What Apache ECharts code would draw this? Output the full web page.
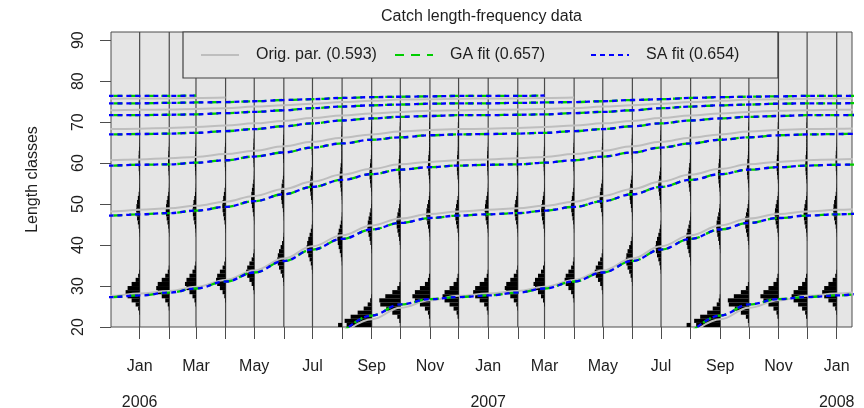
<!DOCTYPE html>
<html>
<head>
<meta charset="utf-8">
<script src="https://cdn.jsdelivr.net/npm/echarts@6/dist/echarts.min.js"></script>
<style>
  html, body { margin: 0; padding: 0; background: #ffffff; }
  #chart { width: 864px; height: 408px; }
</style>
</head>
<body>
<div id="chart"></div>
<script>
// ---- Monthly catch samples (first day of each month) ----
const sampleDates = [
  '2006-01-01', '2006-02-01', '2006-03-01', '2006-04-01', '2006-05-01', '2006-06-01',
  '2006-07-01', '2006-08-01', '2006-09-01', '2006-10-01', '2006-11-01', '2006-12-01',
  '2007-01-01', '2007-02-01', '2007-03-01', '2007-04-01', '2007-05-01', '2007-06-01',
  '2007-07-01', '2007-08-01', '2007-09-01', '2007-10-01', '2007-11-01', '2007-12-01',
  '2008-01-01'
];

const monthNames = ['Jan', 'Feb', 'Mar', 'Apr', 'May', 'Jun', 'Jul', 'Aug', 'Sep', 'Oct', 'Nov', 'Dec'];

// Length-class ticks (cm)
const yTickValues = [20, 30, 40, 50, 60, 70, 80, 90];

// Catch per 1-cm length class, one entry per sample.
// Each segment is [first length class, counts of consecutive classes].
const catchCounts = [
  [[23, [.5,1.5,4,8,12,14,12,8,4,1.5,.5]], [42, [.2,.5,1,1.8,2.6,3.2,3.5,3.2,2.6,1.8,1,.5,.2]], [54, [.1,.2,.3,.6,.9,1.1,1.2,1.1,.9,.6,.3,.2,.1]]],
  [[24, [.5,1.5,4,7.5,11.5,13,11.5,7.5,4,1.5,.5]], [42, [.2,.5,1,1.8,2.6,3.2,3.5,3.2,2.6,1.8,1,.5,.2]], [54, [.1,.2,.3,.6,.9,1.1,1.2,1.1,.9,.6,.3,.2,.1]]],
  [[25, [.5,1.5,3.5,6.5,9.5,11,9.5,6.5,3.5,1.5,.5]], [42, [.2,.5,1,1.7,2.5,3.1,3.4,3.1,2.5,1.7,1,.5,.2]], [54, [.1,.2,.3,.6,.9,1.1,1.2,1.1,.9,.6,.3,.2,.1]]],
  [[26, [.5,1.3,3,5.7,8.4,9.5,8.4,5.7,3,1.3,.5]], [43, [.2,.5,1,1.7,2.4,3,3.3,3,2.4,1.7,1,.5,.2]], [55, [.1,.2,.3,.6,.8,1,1.1,1,.8,.6,.3,.2,.1]]],
  [[28, [.4,1.1,2.6,4.8,7,8,7,4.8,2.6,1.1,.4]], [45, [.2,.4,.9,1.6,2.3,2.9,3.2,2.9,2.3,1.6,.9,.4,.2]], [56, [.1,.2,.3,.6,.8,1,1.1,1,.8,.6,.3,.2,.1]]],
  [[30, [.3,.8,1.8,3.2,4.8,6,6.5,6,4.8,3.2,1.8,.8,.3]], [46, [.2,.4,.9,1.5,2.2,2.7,3,2.7,2.2,1.5,.9,.4,.2]], [57, [.1,.2,.3,.6,.8,1,1.1,1,.8,.6,.3,.2,.1]]],
  [[33, [.3,.8,1.7,2.9,4.2,5.3,5.8,5.3,4.2,2.9,1.7,.8,.3]], [48, [.2,.4,.8,1.4,2,2.5,2.8,2.5,2,1.4,.8,.4,.2]], [58, [.1,.1,.3,.5,.7,.9,1,.9,.7,.5,.3,.1,.1]]],
  [[20, [4]], [35, [.3,.6,1.3,2.3,3.4,4.3,4.7,4.3,3.4,2.3,1.3,.6,.3]], [50, [.2,.4,.7,1.3,1.8,2.3,2.5,2.3,1.8,1.3,.7,.4,.2]], [59, [.1,.1,.3,.5,.7,.9,1,.9,.7,.5,.3,.1,.1]]],
  [[20, [25,27,21,14,8,4,1.5,.5]], [38, [.3,.6,1.3,2.1,3.1,3.9,4.3,3.9,3.1,2.1,1.3,.6,.3]], [51, [.1,.3,.7,1.2,1.7,2.1,2.3,2.1,1.7,1.2,.7,.3,.1]], [60, [.1,.1,.3,.5,.7,.9,1,.9,.7,.5,.3,.1,.1]]],
  [[21, [1,3,8,14,20,21,15,8,3,1]], [39, [.2,.6,1.2,2,2.9,3.6,4,3.6,2.9,2,1.2,.6,.2]], [52, [.1,.3,.6,1,1.5,1.9,2.1,1.9,1.5,1,.6,.3,.1]], [60, [.1,.1,.3,.5,.7,.9,1,.9,.7,.5,.3,.1,.1]]],
  [[22, [1,2,5,10,15,17.5,15,10,5,2,1]], [41, [.2,.6,1.1,1.9,2.8,3.5,3.8,3.5,2.8,1.9,1.1,.6,.2]], [53, [.1,.3,.6,1,1.5,1.8,2,1.8,1.5,1,.6,.3,.1]], [61, [.1,.1,.3,.5,.7,.8,.9,.8,.7,.5,.3,.1,.1]]],
  [[22, [1,2,5,9,14,16,14,9,5,2,1]], [41, [.2,.5,1,1.8,2.6,3.2,3.5,3.2,2.6,1.8,1,.5,.2]], [53, [.1,.3,.6,1,1.4,1.7,1.9,1.7,1.4,1,.6,.3,.1]], [61, [.1,.1,.3,.5,.7,.8,.9,.8,.7,.5,.3,.1,.1]]],
  [[23, [.5,1.5,4,8.5,13,15,13,8.5,4,1.5,.5]], [42, [.2,.5,1,1.8,2.6,3.2,3.5,3.2,2.6,1.8,1,.5,.2]], [54, [.1,.2,.3,.6,.9,1.1,1.2,1.1,.9,.6,.3,.2,.1]]],
  [[24, [.5,1.5,4,7.5,11.5,13,11.5,7.5,4,1.5,.5]], [42, [.2,.5,1,1.7,2.5,3.1,3.4,3.1,2.5,1.7,1,.5,.2]], [54, [.1,.2,.3,.6,.9,1.1,1.2,1.1,.9,.6,.3,.2,.1]]],
  [[25, [.5,1.5,3.5,6.5,9.5,11,9.5,6.5,3.5,1.5,.5]], [42, [.2,.5,1,1.7,2.5,3.1,3.4,3.1,2.5,1.7,1,.5,.2]], [54, [.1,.2,.3,.6,.8,1,1.1,1,.8,.6,.3,.2,.1]]],
  [[26, [.5,1.3,3,5.7,8.4,9.5,8.4,5.7,3,1.3,.5]], [43, [.2,.4,.9,1.6,2.3,2.9,3.2,2.9,2.3,1.6,.9,.4,.2]], [55, [.1,.2,.3,.6,.8,1,1.1,1,.8,.6,.3,.2,.1]]],
  [[28, [.4,1.1,2.6,4.8,7,8,7,4.8,2.6,1.1,.4]], [45, [.2,.4,.9,1.6,2.3,2.9,3.2,2.9,2.3,1.6,.9,.4,.2]], [56, [.1,.2,.3,.6,.8,1,1.1,1,.8,.6,.3,.2,.1]]],
  [[30, [.3,.8,1.8,3.2,4.8,6,6.5,6,4.8,3.2,1.8,.8,.3]], [46, [.2,.4,.9,1.5,2.2,2.7,3,2.7,2.2,1.5,.9,.4,.2]], [57, [.1,.1,.3,.5,.7,.9,1,.9,.7,.5,.3,.1,.1]]],
  [[33, [.3,.8,1.6,2.7,4,5.1,5.5,5.1,4,2.7,1.6,.8,.3]], [48, [.2,.4,.8,1.4,2,2.5,2.8,2.5,2,1.4,.8,.4,.2]], [58, [.1,.1,.3,.5,.7,.9,1,.9,.7,.5,.3,.1,.1]]],
  [[20, [4]], [35, [.3,.6,1.3,2.2,3.3,4.1,4.5,4.1,3.3,2.2,1.3,.6,.3]], [50, [.2,.4,.7,1.3,1.8,2.3,2.5,2.3,1.8,1.3,.7,.4,.2]], [59, [.1,.1,.3,.5,.7,.9,1,.9,.7,.5,.3,.1,.1]]],
  [[20, [24,26,20,13,7.5,3.5,1.5,.5]], [38, [.2,.6,1.2,2,2.9,3.6,4,3.6,2.9,2,1.2,.6,.2]], [51, [.1,.3,.7,1.2,1.7,2.1,2.3,2.1,1.7,1.2,.7,.3,.1]], [60, [.1,.1,.3,.5,.7,.8,.9,.8,.7,.5,.3,.1,.1]]],
  [[21, [1,3,8,14,20,21,15,8,3,1]], [39, [.2,.6,1.2,2,2.9,3.6,4,3.6,2.9,2,1.2,.6,.2]], [52, [.1,.3,.6,1,1.5,1.9,2.1,1.9,1.5,1,.6,.3,.1]], [60, [.1,.1,.3,.5,.7,.8,.9,.8,.7,.5,.3,.1,.1]]],
  [[22, [1,2,5,10,15,18,15,10,5,2,1]], [41, [.2,.6,1.1,1.9,2.8,3.5,3.8,3.5,2.8,1.9,1.1,.6,.2]], [53, [.1,.3,.6,1,1.5,1.8,2,1.8,1.5,1,.6,.3,.1]], [61, [.1,.1,.3,.5,.7,.8,.9,.8,.7,.5,.3,.1,.1]]],
  [[22, [1,2,5,9,13.5,15.5,13.5,9,5,2,1]], [41, [.2,.5,1,1.8,2.6,3.2,3.5,3.2,2.6,1.8,1,.5,.2]], [53, [.1,.3,.6,1,1.4,1.7,1.9,1.7,1.4,1,.6,.3,.1]], [61, [.1,.1,.3,.5,.7,.8,.9,.8,.7,.5,.3,.1,.1]]],
  [[23, [.5,1.5,4,8.3,12.5,14.5,12.5,8.3,4,1.5,.5]], [42, [.2,.5,1,1.8,2.6,3.2,3.5,3.2,2.6,1.8,1,.5,.2]], [54, [.1,.2,.3,.6,.9,1.1,1.2,1.1,.9,.6,.3,.2,.1]]]
];

// ---- Growth curves: length (cm) at monthly steps after 1 August of a cohort's recruitment year ----
// Original parameters
const origLength = [
  18.1, 21.9, 24.7, 26.5, 27.6,
  28.2, 28.8, 29.8, 31.5, 33.8, 36.7, 39.7, 42.4, 44.8, 46.5, 47.6, 48.2,
  48.6, 49.0, 49.6, 50.6, 52.0, 53.7, 55.5, 57.2, 58.6, 59.7, 60.3, 60.7,
  60.9, 61.2, 61.5, 62.2, 63.0, 64.1, 65.2, 66.2, 67.0, 67.7, 68.1, 68.3,
  68.4, 68.6, 68.8, 69.2, 69.7, 70.3, 71.0, 71.6, 72.1, 72.5, 72.8, 72.9,
  73.0, 73.1, 73.2, 73.4, 73.8, 74.1, 74.5, 74.9, 75.2, 75.5, 75.6, 75.7,
  75.8, 75.8, 75.9, 76.0
];
// Genetic-algorithm fit
const gaLength = [
  18.6, 22.8, 25.5, 26.8, 27.3,
  27.7, 28.4, 29.4, 31.1, 33.3, 36.1, 38.9, 41.5, 43.8, 45.4, 46.6, 47.2,
  47.5, 47.8, 48.4, 49.3, 50.7, 52.4, 54.2, 55.9, 57.3, 58.4, 59.0, 59.4,
  59.6, 59.7, 60.1, 60.7, 61.6, 62.6, 63.8, 64.8, 65.7, 66.3, 66.8, 67.0,
  67.1, 67.2, 67.4, 67.8, 68.3, 69.0, 69.7, 70.4, 70.9, 71.3, 71.5, 71.7,
  71.7, 71.8, 71.9, 72.2, 72.5, 72.9, 73.4, 73.8, 74.1, 74.3, 74.5, 74.6,
  74.6, 74.7, 74.8, 74.9, 75.1, 75.4, 75.6, 75.9, 76.1, 76.2, 76.3, 76.4,
  76.4, 76.4, 76.5
];
// Simulated-annealing fit (coincides with the GA curve within a line width)
const saLength = gaLength;

const fitNames = ['Orig. par.', 'GA fit', 'SA fit'];
const fitScores = [0.593, 0.657, 0.654];

// ---- Layout / style constants ----
const FONT = '"Liberation Sans", Arial, Helvetica, sans-serif';
const TEXT = '#1e1e1e';
const Y_MIN = 20, Y_MAX = 92;
const DAY = 86400000;
const toTime = s => Date.parse(s + 'T00:00:00Z');
const X_MIN = toTime('2005-12-02');
const X_MAX = toTime('2008-01-17');
const DAYS_PER_COUNT = 1.05;   // horizontal extent of one catch unit

const sampleTimes = sampleDates.map(toTime);
const labelTimes = sampleTimes.filter((t, i) => i % 2 === 0);
const seriesNames = fitNames.map((n, i) => n + ' (' + fitScores[i].toFixed(3) + ')');

const lineStyles = [
  { color: '#bebebe', width: 2, type: 'solid' },
  { color: '#00cd00', width: 2.3, type: [9, 7] },
  { color: '#0000ff', width: 2.3, type: [5, 4] }
];

// Histogram bars: [sample time, length class, count]
const histData = [];
catchCounts.forEach((segments, i) => {
  const byClass = {};
  segments.forEach(([first, counts]) => {
    counts.forEach((c, k) => { byClass[first + k] = (byClass[first + k] || 0) + c; });
  });
  Object.keys(byClass).forEach(cls => histData.push([sampleTimes[i], +cls, byClass[cls]]));
});

// One line per cohort, recruited each August
function cohortLines(name, lengths, lineStyle, z) {
  const out = [];
  for (let year = 1995; year <= 2008; year++) {
    const pts = [];
    lengths.forEach((len, a) => {
      const t = Date.UTC(year, 7 + a, 1);
      if (t >= X_MIN - 32 * DAY && t <= X_MAX + 32 * DAY) pts.push([t, len]);
    });
    if (pts.length < 2) continue;
    out.push({
      name: name, type: 'line', data: pts, z: z,
      smooth: 0.4, smoothMonotone: 'x', symbol: 'none', clip: true,
      itemStyle: { color: lineStyle.color },
      lineStyle: lineStyle, silent: true
    });
  }
  return out;
}

// Legend: three equal columns inside one framed box
const legendCommon = {
  orient: 'horizontal',
  itemWidth: 38, itemHeight: 14,
  selectedMode: false,
  itemStyle: { opacity: 0 },
  textStyle: { fontSize: 16, color: TEXT, fontFamily: FONT, padding: [0, 0, 0, 12] }
};
const LEGEND_TOP = 32, LEGEND_PAD = 15;

const chart = echarts.init(document.getElementById('chart'), null, { renderer: 'canvas' });

const option = {
  animation: false,
  backgroundColor: '#ffffff',
  title: {
    text: 'Catch length-frequency data',
    left: 481.5, top: 9, padding: 0,
    textAlign: 'center',
    textStyle: { fontSize: 16, fontWeight: 'normal', color: TEXT, fontFamily: FONT }
  },
  grid: {
    left: 111, right: 12, top: 32, bottom: 81,
    outerBoundsMode: 'none', containLabel: false,
    show: true, backgroundColor: '#e5e5e5', borderColor: '#4d4d4d', borderWidth: 1
  },
  legend: [
    Object.assign({}, legendCommon, {
      data: [seriesNames[0]], left: 183, top: LEGEND_TOP, z: 10,
      padding: [LEGEND_PAD, 401, LEGEND_PAD, 17],
      backgroundColor: '#e5e5e5', borderColor: '#404040', borderWidth: 1.2
    }),
    Object.assign({}, legendCommon, {
      data: [seriesNames[1]], left: 394, top: LEGEND_TOP + LEGEND_PAD, z: 11, padding: 0
    }),
    Object.assign({}, legendCommon, {
      data: [seriesNames[2]], left: 590, top: LEGEND_TOP + LEGEND_PAD, z: 11, padding: 0
    })
  ],
  xAxis: {
    // time as milliseconds since epoch (UTC)
    type: 'value', min: X_MIN, max: X_MAX,
    axisLine: { show: false },
    axisTick: { show: true, length: 12, customValues: sampleTimes, lineStyle: { color: '#4d4d4d', width: 1 } },
    axisLabel: {
      customValues: labelTimes, margin: 31, fontSize: 16, lineHeight: 18,
      color: TEXT, fontFamily: FONT, hideOverlap: false,
      formatter: v => {
        const d = new Date(v);
        const m = monthNames[d.getUTCMonth()];
        return d.getUTCMonth() === 0 ? m + '\n\n' + d.getUTCFullYear() : m;
      }
    },
    splitLine: { show: false }
  },
  yAxis: {
    type: 'value', min: Y_MIN, max: Y_MAX, interval: 10,
    name: 'Length classes', nameLocation: 'middle', nameGap: 70, nameRotate: 90,
    nameTextStyle: { fontSize: 16, color: TEXT, fontFamily: FONT },
    axisLine: { show: false },
    axisTick: { show: true, length: 11, customValues: yTickValues, lineStyle: { color: '#4d4d4d', width: 1 } },
    axisLabel: { customValues: yTickValues, rotate: 90, margin: 24, fontSize: 16, color: TEXT, fontFamily: FONT },
    splitLine: { show: false }
  },
  series: [
    {
      // vertical sample lines
      type: 'custom', z: 1, silent: true,
      data: sampleTimes.map(t => [t, Y_MIN]),
      encode: { x: 0, y: 1 },
      renderItem: (params, api) => {
        const t = api.value(0);
        const a = api.coord([t, Y_MIN]);
        const b = api.coord([t, Y_MAX]);
        return { type: 'line', shape: { x1: a[0], y1: a[1], x2: b[0], y2: b[1] },
                 style: { stroke: '#4a4a4a', lineWidth: 1.2 } };
      }
    },
    {
      // catch histograms, bars extend left of each sample line
      type: 'custom', z: 2, silent: true, clip: true,
      data: histData,
      encode: { x: 0, y: 1 },
      renderItem: (params, api) => {
        const t = api.value(0), cls = api.value(1), n = api.value(2);
        const tl = api.coord([t - n * DAYS_PER_COUNT * DAY, cls + 1]);
        const br = api.coord([t, cls]);
        return { type: 'rect', shape: { x: tl[0], y: tl[1], width: br[0] - tl[0], height: br[1] - tl[1] },
                 style: { fill: '#000000' } };
      }
    },
    ...cohortLines(seriesNames[0], origLength, lineStyles[0], 3),
    ...cohortLines(seriesNames[1], gaLength, lineStyles[1], 4),
    ...cohortLines(seriesNames[2], saLength, lineStyles[2], 5)
  ]
};

chart.setOption(option);
</script>
</body>
</html>
